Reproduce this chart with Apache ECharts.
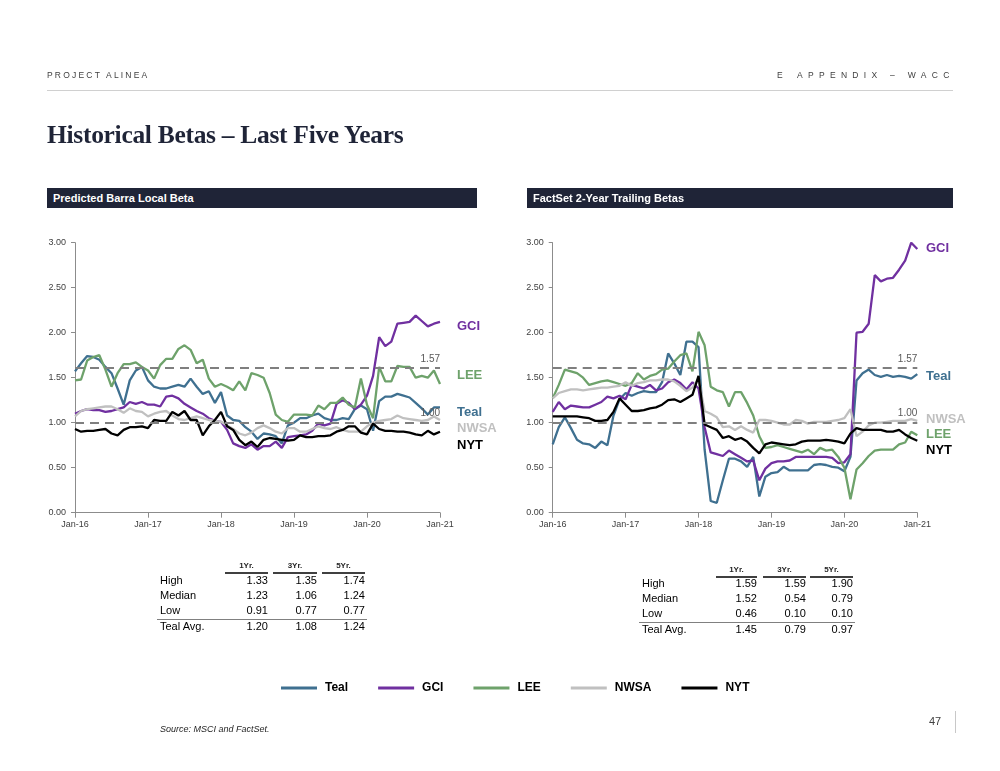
<!DOCTYPE html>
<html>
<head>
<meta charset="utf-8">
<script src="https://cdn.jsdelivr.net/npm/echarts@6/dist/echarts.min.js"></script>
<style>
  html, body { margin:0; padding:0; background:#fff; }
  #page { position:relative; width:1000px; height:771px; overflow:hidden; font-family:"Liberation Sans", Arial, sans-serif; }
  #chart { position:absolute; left:0; top:0; width:1000px; height:771px; }
  .t { position:absolute; white-space:nowrap; line-height:1; pointer-events:none; }
  .hl { position:absolute; pointer-events:none; }
</style>
</head>
<body>
<div id="page">
  <div id="chart"></div>
  <div id="overlay"></div>
</div>
<script>
// ---------- DATA ----------
const monthNames = ['Jan','Feb','Mar','Apr','May','Jun','Jul','Aug','Sep','Oct','Nov','Dec'];
const yearSuffixes = ['16','17','18','19','20','21'];
const seriesNames = ['Teal','GCI','LEE','NWSA','NYT'];

// Predicted Barra Local Beta (monthly, Jan-16 .. Jan-21)
const leftTeal = [1.57,1.66,1.74,1.73,1.70,1.62,1.55,1.38,1.20,1.47,1.58,1.62,1.47,1.40,1.38,1.38,1.40,1.42,1.40,1.49,1.40,1.32,1.35,1.22,1.34,1.08,1.03,1.02,0.95,0.90,0.82,0.88,0.87,0.85,0.77,0.97,1.00,1.05,1.05,1.08,1.10,1.05,1.03,1.03,1.05,1.04,1.15,1.19,1.15,0.91,1.24,1.29,1.29,1.32,1.30,1.28,1.22,1.16,1.09,1.17,1.17];
const leftGCI  = [1.10,1.13,1.15,1.14,1.14,1.12,1.13,1.15,1.17,1.23,1.21,1.23,1.20,1.20,1.18,1.29,1.30,1.27,1.21,1.17,1.13,1.10,1.05,1.02,1.01,0.92,0.77,0.74,0.72,0.76,0.70,0.74,0.74,0.79,0.72,0.84,0.85,0.86,0.87,0.91,0.99,0.97,0.99,1.21,1.25,1.22,1.15,1.20,1.30,1.52,1.95,1.85,1.90,2.10,2.11,2.12,2.19,2.13,2.07,2.10,2.12];
const leftLEE  = [1.47,1.48,1.69,1.73,1.75,1.59,1.40,1.55,1.65,1.65,1.67,1.62,1.58,1.49,1.64,1.71,1.71,1.82,1.86,1.81,1.66,1.70,1.49,1.40,1.43,1.40,1.36,1.46,1.36,1.55,1.53,1.50,1.33,1.09,1.03,1.01,1.09,1.09,1.09,1.08,1.19,1.15,1.22,1.22,1.28,1.20,1.17,1.49,1.20,1.05,1.62,1.46,1.46,1.63,1.62,1.62,1.50,1.52,1.50,1.58,1.43];
const leftNWSA = [1.07,1.13,1.15,1.16,1.17,1.18,1.18,1.15,1.11,1.16,1.13,1.12,1.07,1.10,1.12,1.13,1.08,1.04,1.03,1.05,1.07,1.05,1.03,1.02,1.01,0.97,0.93,0.88,0.86,0.89,0.94,0.97,0.94,0.90,0.88,0.94,0.94,0.90,0.90,0.93,0.96,0.94,0.93,0.95,0.92,0.90,0.90,0.90,0.96,1.00,1.02,1.03,1.04,1.08,1.05,1.04,1.03,1.02,1.03,1.07,1.03];
const leftNYT  = [0.93,0.90,0.91,0.91,0.92,0.93,0.88,0.86,0.92,0.95,0.95,0.96,0.94,1.03,1.02,1.02,1.12,1.08,1.13,1.03,1.03,0.86,0.96,1.03,1.12,0.96,0.92,0.81,0.75,0.79,0.73,0.81,0.83,0.82,0.81,0.80,0.81,0.86,0.84,0.84,0.85,0.85,0.86,0.90,0.92,0.96,0.96,0.89,0.87,0.99,0.93,0.91,0.91,0.90,0.90,0.89,0.87,0.86,0.91,0.87,0.90];

// FactSet 2-Year Trailing Betas (monthly, Jan-16 .. Jan-21)
const rightTeal = [0.76,0.95,1.06,0.94,0.81,0.77,0.76,0.72,0.79,0.75,1.08,1.26,1.33,1.30,1.33,1.35,1.34,1.34,1.45,1.77,1.66,1.53,1.90,1.90,1.84,0.70,0.13,0.11,0.36,0.60,0.60,0.57,0.51,0.62,0.18,0.40,0.44,0.45,0.51,0.47,0.47,0.47,0.47,0.53,0.54,0.53,0.51,0.50,0.46,0.62,1.47,1.55,1.59,1.53,1.51,1.53,1.51,1.52,1.51,1.49,1.54];
const rightGCI  = [1.12,1.23,1.15,1.19,1.18,1.17,1.17,1.20,1.23,1.29,1.27,1.30,1.26,1.42,1.40,1.38,1.42,1.36,1.38,1.45,1.48,1.44,1.37,1.45,1.38,0.95,0.67,0.65,0.63,0.69,0.65,0.61,0.57,0.58,0.36,0.49,0.55,0.57,0.57,0.58,0.62,0.62,0.62,0.62,0.62,0.62,0.61,0.55,0.56,0.65,2.00,2.01,2.10,2.64,2.57,2.60,2.61,2.70,2.80,3.00,2.93];
const rightLEE  = [1.27,1.42,1.59,1.57,1.55,1.50,1.42,1.44,1.46,1.47,1.45,1.43,1.41,1.44,1.55,1.48,1.52,1.54,1.59,1.60,1.68,1.75,1.77,1.57,2.01,1.86,1.40,1.36,1.34,1.18,1.34,1.34,1.22,1.08,0.85,0.72,0.73,0.75,0.73,0.71,0.69,0.67,0.70,0.65,0.72,0.69,0.70,0.62,0.50,0.15,0.48,0.55,0.63,0.69,0.70,0.70,0.70,0.76,0.78,0.90,0.86];
const rightNWSA = [1.27,1.33,1.35,1.37,1.37,1.36,1.37,1.38,1.39,1.39,1.40,1.41,1.45,1.41,1.44,1.45,1.47,1.47,1.48,1.48,1.46,1.41,1.35,1.39,1.49,1.13,1.10,1.06,0.95,0.96,0.92,0.96,0.92,0.89,1.03,1.03,1.02,1.00,0.98,0.98,1.03,1.02,0.99,1.01,1.01,1.01,1.02,1.03,1.05,1.15,0.85,0.90,0.97,1.00,1.00,1.01,1.02,1.02,1.02,1.04,1.02];
const rightNYT  = [1.07,1.07,1.07,1.07,1.07,1.06,1.05,1.02,1.02,1.03,1.12,1.27,1.20,1.13,1.13,1.14,1.16,1.17,1.20,1.25,1.26,1.23,1.27,1.31,1.52,0.98,0.95,0.92,0.83,0.85,0.81,0.83,0.79,0.72,0.66,0.76,0.78,0.77,0.76,0.75,0.76,0.79,0.80,0.80,0.80,0.81,0.80,0.79,0.77,0.88,0.94,0.92,0.92,0.92,0.92,0.90,0.90,0.92,0.87,0.83,0.80];

// reference lines (drawn level, printed label)
const refLevels = [1.61, 1.00];
const refLabels = ['1.57', '1.00'];

// tables
const tableCols = ['1Yr.', '3Yr.', '5Yr.'];
const tableRows = ['High', 'Median', 'Low', 'Teal Avg.'];
const leftTable  = [['1.33','1.35','1.74'],['1.23','1.06','1.24'],['0.91','0.77','0.77'],['1.20','1.08','1.24']];
const rightTable = [['1.59','1.59','1.90'],['1.52','0.54','0.79'],['0.46','0.10','0.10'],['1.45','0.79','0.97']];

// ---------- BUILD ----------
const categories = [];
for (const y of yearSuffixes) for (const m of monthNames) { if (categories.length < 61) categories.push(m + '-' + y); }

const FONT = '"Liberation Sans", Arial, sans-serif';
const colors = { Teal:'#3f7090', GCI:'#7030a0', LEE:'#6ea26b', NWSA:'#c0c0c0', NYT:'#000000' };
const leftData  = { Teal:leftTeal, GCI:leftGCI, LEE:leftLEE, NWSA:leftNWSA, NYT:leftNYT };
const rightData = { Teal:rightTeal, GCI:rightGCI, LEE:rightLEE, NWSA:rightNWSA, NYT:rightNYT };

function xAxisCfg(gi) {
  return {
    type:'category', gridIndex:gi, data:categories, boundaryGap:false,
    axisLine:{ lineStyle:{ color:'#8c8c8c', width:1 } },
    axisTick:{ show:true, interval:11, length:5, lineStyle:{ color:'#8c8c8c' } },
    axisLabel:{ interval:11, color:'#404040', fontSize:9, fontFamily:FONT, margin:7 },
    splitLine:{ show:false }
  };
}
function yAxisCfg(gi) {
  return {
    type:'value', gridIndex:gi, min:0, max:3, interval:0.5,
    axisLine:{ show:true, lineStyle:{ color:'#8c8c8c', width:1 } },
    axisTick:{ show:true, length:4, lineStyle:{ color:'#8c8c8c' } },
    axisLabel:{ color:'#404040', fontSize:9, fontFamily:FONT, margin:9, formatter:v => v.toFixed(2) },
    splitLine:{ show:false }
  };
}
function refSeries(gi) {
  return {
    type:'line', name:'ref' + gi, data:[], xAxisIndex:gi, yAxisIndex:gi, z:1, silent:true,
    markLine:{
      silent:true, symbol:'none', animation:false,
      lineStyle:{ color:'#7f7f7f', type:[9,6], width:2 },
      label:{ show:true, position:'insideEndTop', color:'#595959', fontSize:10, fontFamily:FONT, distance:[0,4] },
      data: refLevels.map((v,k) => ({ yAxis:v, label:{ formatter:refLabels[k] } }))
    }
  };
}
const series = [refSeries(0), refSeries(1)];
[leftData, rightData].forEach((ds, gi) => {
  seriesNames.forEach(n => {
    series.push({
      type:'line', name:n, data:ds[n], xAxisIndex:gi, yAxisIndex:gi,
      showSymbol:false, symbol:'none', smooth:false, z:2,
      lineStyle:{ color:colors[n], width:2.3 }, itemStyle:{ color:colors[n] },
      emphasis:{ disabled:true }
    });
  });
});

const chart = echarts.init(document.getElementById('chart'), null, { renderer:'canvas' });
chart.setOption({
  animation:false,
  grid:[
    { left:75, top:242.7, width:365, height:270 },
    { left:552.7, top:242.7, width:364.6, height:270 }
  ],
  xAxis:[xAxisCfg(0), xAxisCfg(1)],
  yAxis:[yAxisCfg(0), yAxisCfg(1)],
  legend:{
    data:seriesNames, left:276, top:677, icon:'rect', itemWidth:36, itemHeight:3, itemGap:30,
    selectedMode:false,
    textStyle:{ color:'#000', fontSize:12, fontWeight:'bold', fontFamily:FONT, padding:[0,0,0,3] }
  },
  series: series
});

// ---------- STATIC TEXT / TABLES ----------
const ov = document.getElementById('overlay');
function txt(s, x, y, css, align) {
  const d = document.createElement('div');
  d.className = 't';
  d.textContent = s;
  d.style.cssText += css || '';
  if (align === 'right') { d.style.right = (1000 - x) + 'px'; }
  else if (align === 'center') { d.style.left = (x - 100) + 'px'; d.style.width = '200px'; d.style.textAlign = 'center'; }
  else { d.style.left = x + 'px'; }
  d.style.top = y + 'px';
  ov.appendChild(d);
  return d;
}
function hline(x1, x2, y, h, color) {
  const d = document.createElement('div');
  d.className = 'hl';
  d.style.cssText = `left:${x1}px;top:${y}px;width:${x2 - x1}px;height:${h}px;background:${color};`;
  ov.appendChild(d);
}

// header
txt('PROJECT ALINEA', 47, 71, 'font-size:8.5px;letter-spacing:2.2px;color:#404040;');
txt('E', 777, 71, 'font-size:8.5px;color:#404040;');
txt('APPENDIX \u2013 WACC', 797, 71, 'font-size:8.5px;letter-spacing:5.3px;color:#404040;');
hline(47, 953, 90, 1, '#d0d0d0');
txt('Historical Betas \u2013 Last Five Years', 47, 122, 'font-family:"Liberation Serif","Times New Roman",serif;font-weight:bold;font-size:25.5px;color:#1f2437;letter-spacing:-0.3px;');

// section bars
hline(47, 477, 188, 20, '#1f2437');
hline(527, 953, 188, 20, '#1f2437');
txt('Predicted Barra Local Beta', 53, 193, 'font-size:11px;font-weight:bold;color:#fff;');
txt('FactSet 2-Year Trailing Betas', 533, 193, 'font-size:11px;font-weight:bold;color:#fff;');

// end labels
const endLabelCss = n => `font-size:13px;font-weight:bold;color:${colors[n]};`;
const leftEnd  = [['GCI',326],['LEE',375],['Teal',412],['NWSA',428],['NYT',445]];
const rightEnd = [['GCI',248],['Teal',376],['NWSA',419],['LEE',434],['NYT',450]];
leftEnd.forEach(([n,y]) => txt(n, 457, y - 7, endLabelCss(n)));
rightEnd.forEach(([n,y]) => txt(n, 926, y - 7, endLabelCss(n)));

// tables
function drawTable(vals, cfg) {
  cfg.colSpans.forEach(([a,b], k) => {
    txt(tableCols[k], (a + b) / 2, cfg.headY - 4, 'font-size:8px;font-weight:bold;color:#262626;', 'center');
    hline(a, b, cfg.headLineY, 1.5, '#404040');
  });
  tableRows.forEach((r, i) => {
    const y = cfg.rowY[i] - 6;
    txt(r, cfg.labelX, y, 'font-size:11px;color:#000;');
    vals[i].forEach((v, k) => txt(v, cfg.colSpans[k][1], y, 'font-size:11px;color:#000;', 'right'));
  });
  hline(cfg.sepX1, cfg.sepX2, cfg.sepY, 1, '#808080');
}
drawTable(leftTable, { colSpans:[[225,268],[273,317],[322,365]], headY:566, headLineY:572, labelX:160, rowY:[581,596,611,627], sepX1:157, sepX2:367, sepY:619 });
drawTable(rightTable, { colSpans:[[716,757],[763,806],[810,853]], headY:570, headLineY:576, labelX:642, rowY:[584,599,614,630], sepX1:639, sepX2:855, sepY:622 });

// footer
txt('Source:  MSCI and FactSet.', 160, 725, 'font-size:9px;font-style:italic;color:#262626;');
txt('47', 929, 716, 'font-size:11px;color:#404040;');
hline(955, 956, 711, 22, '#c8c8c8');
</script>
</body>
</html>
